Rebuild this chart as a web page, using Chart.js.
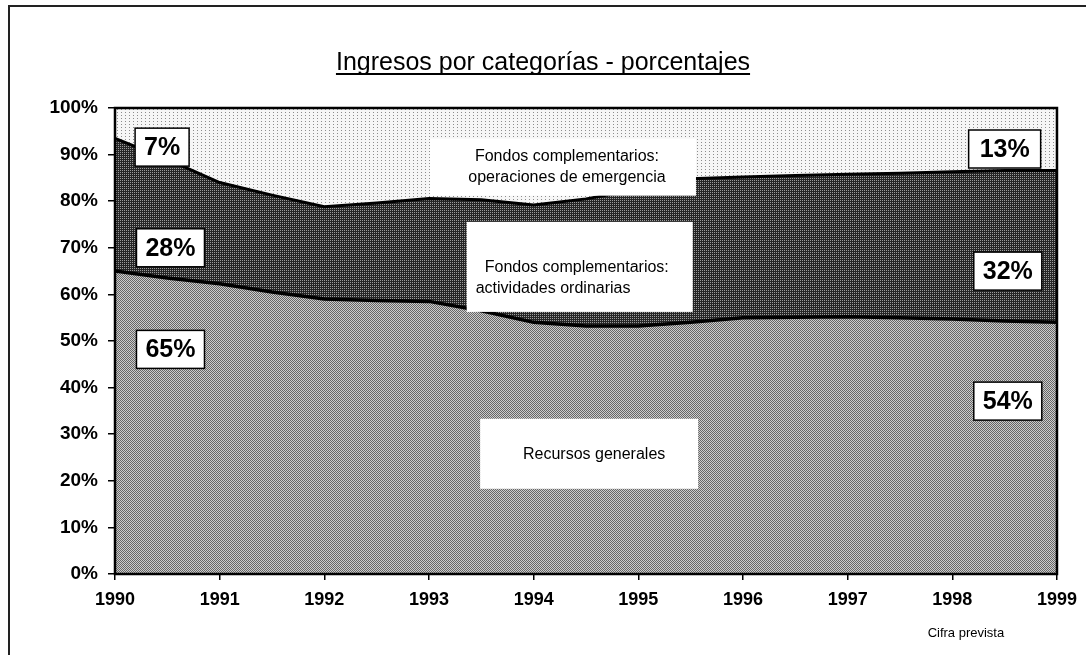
<!DOCTYPE html>
<html>
<head>
<meta charset="utf-8">
<script src="https://cdn.jsdelivr.net/npm/chart.js@4/dist/chart.umd.min.js"></script>
<style>
  html, body { margin: 0; padding: 0; background: #fff; }
  #wrap { position: relative; width: 1086px; height: 655px; overflow: hidden; }
  #frame { position: absolute; left: 8px; top: 5px; width: 1090px; height: 660px; border-top: 2px solid #222; border-left: 2px solid #222; pointer-events: none; }
  canvas { position: absolute; left: 0; top: 0; }
</style>
</head>
<body>
<div id="wrap">
  <canvas id="c" width="1086" height="655"></canvas>
  <div id="frame"></div>
</div>
<script>
// ---- data (percent of total income) ----
const years = [1990, 1990.5, 1991, 1991.5, 1992, 1992.5, 1993, 1993.5, 1994, 1994.5,
               1995, 1995.5, 1996, 1996.5, 1997, 1997.5, 1998, 1998.5, 1999];
const recursosGenerales = [65, 63.5, 62.3, 60.5, 59, 58.7, 58.5, 56.5, 54, 53.2,
                           53.2, 54, 55, 55.1, 55.2, 55, 54.7, 54.3, 54];
const actividadesOrdinarias = [28.5, 25.5, 21.7, 20.8, 19.8, 20.9, 22.1, 23.8, 25.2, 27.3,
                               29.3, 30.8, 30.2, 30.4, 30.6, 31, 31.6, 32.3, 32.6];
const operacionesEmergencia = [6.5, 11, 16, 18.7, 21.2, 20.4, 19.4, 19.7, 20.8, 19.5,
                               17.5, 15.2, 14.8, 14.5, 14.2, 14, 13.7, 13.4, 13.4];
const xTickYears = [1990, 1991, 1992, 1993, 1994, 1995, 1996, 1997, 1998, 1999];
const yTickValues = [0, 10, 20, 30, 40, 50, 60, 70, 80, 90, 100];
const titleText = 'Ingresos por categorías - porcentajes';
const footnoteText = 'Cifra prevista';
const startLabels = ['7%', '28%', '65%'];
const endLabels = ['13%', '32%', '54%'];
const seriesNames = [
  ['Recursos generales'],
  ['Fondos complementarios:', 'actividades ordinarias'],
  ['Fondos complementarios:', 'operaciones de emergencia']
];

// ---- texture patterns (greyscale print look) ----
function makePattern(w, h, bg, fg, cells) {
  const cv = document.createElement('canvas');
  cv.width = w; cv.height = h;
  const g = cv.getContext('2d');
  g.fillStyle = bg; g.fillRect(0, 0, w, h);
  g.fillStyle = fg;
  cells.forEach(([x, y]) => g.fillRect(x, y, 1, 1));
  return g.createPattern(cv, 'repeat');
}
const ctx = document.getElementById('c').getContext('2d');
const patLow = makePattern(2, 2, '#cccccc', '#666666', [[0, 0], [1, 1]]);
const patMid = makePattern(2, 2, '#262626', '#9c9c9c', [[0, 0]]);
const patTop = makePattern(4, 3, '#f6f6f6', '#8c8c8c', [[1, 1]]);

const toPts = arr => arr.map((v, i) => ({ x: years[i], y: v }));

const FONT = "'Liberation Sans', Arial, Helvetica, sans-serif";

const overlay = {
  id: 'overlay',
  afterDatasetsDraw(chart) {
    const c = chart.ctx, a = chart.chartArea;
    const xs = chart.scales.x, ys = chart.scales.y;
    c.save();
    // plot border
    c.strokeStyle = '#000'; c.lineWidth = 2.5;
    c.strokeRect(a.left, a.top, a.right - a.left, a.bottom - a.top);

    function box(cx, cy, w, h, border) {
      c.fillStyle = '#fff';
      c.fillRect(cx - w / 2, cy - h / 2, w, h);
      if (border) { c.strokeStyle = '#000'; c.lineWidth = 1.5; c.strokeRect(cx - w / 2, cy - h / 2, w, h); }
    }
    // percentage labels
    c.font = 'bold 25px ' + FONT;
    c.textAlign = 'center'; c.textBaseline = 'middle';
    const leftPos = [[1990.45, 91.6, 54], [1990.53, 70, 68], [1990.53, 48.2, 68]];
    const rightPos = [[1998.5, 91.2, 72], [1998.53, 65, 68], [1998.53, 37.1, 68]];
    const drawSet = (labels, pos) => labels.forEach((t, i) => {
      const px = xs.getPixelForValue(pos[i][0]), py = ys.getPixelForValue(pos[i][1]);
      box(px, py, pos[i][2], 38, true);
      c.fillStyle = '#000';
      c.fillText(t, px, py + 1);
    });
    drawSet(startLabels, leftPos);
    drawSet(endLabels, rightPos);

    // series name boxes
    c.font = '16px ' + FONT;
    c.textAlign = 'center';
    // emergency
    let px = xs.getPixelForValue(1994.28), py = ys.getPixelForValue(87.3);
    box(px, py, 266, 57, false);
    c.fillStyle = '#000';
    c.fillText(seriesNames[2][0], px + 4, py - 11);
    c.fillText(seriesNames[2][1], px + 4, py + 10);
    // ordinarias
    px = xs.getPixelForValue(1994.44); py = ys.getPixelForValue(65.9);
    box(px, py, 226, 90, false);
    c.fillStyle = '#000'; c.textAlign = 'left';
    c.fillText(seriesNames[1][0], px - 95, py + 1);
    c.fillText(seriesNames[1][1], px - 104, py + 22);
    // recursos
    px = xs.getPixelForValue(1994.53); py = ys.getPixelForValue(25.8);
    box(px, py, 218, 70, false);
    c.fillStyle = '#000'; c.textAlign = 'center';
    c.fillText(seriesNames[0][0], px + 5, py + 1);
    c.restore();
  },
  afterDraw(chart) {
    const c = chart.ctx;
    c.save();
    c.fillStyle = '#000';
    c.font = '25px ' + FONT;
    c.textAlign = 'center'; c.textBaseline = 'alphabetic';
    const tx = 543, ty = 70;
    c.fillText(titleText, tx, ty);
    const w = c.measureText(titleText).width;
    c.fillRect(tx - w / 2, ty + 3, w, 2);
    c.font = '13px ' + FONT;
    c.fillText(footnoteText, chart.scales.x.getPixelForValue(1998.13), 637);
    c.restore();
  }
};

new Chart(ctx, {
  type: 'line',
  data: {
    datasets: [
      { label: 'Recursos generales', data: toPts(recursosGenerales), fill: 'origin',
        backgroundColor: patLow, borderColor: '#000', borderWidth: 3.5, pointRadius: 0, tension: 0 },
      { label: 'Fondos complementarios: actividades ordinarias', data: toPts(actividadesOrdinarias), fill: '-1',
        backgroundColor: patMid, borderColor: '#000', borderWidth: 3, pointRadius: 0, tension: 0 },
      { label: 'Fondos complementarios: operaciones de emergencia', data: toPts(operacionesEmergencia), fill: '-1',
        backgroundColor: patTop, borderColor: 'rgba(0,0,0,0)', borderWidth: 0, pointRadius: 0, tension: 0 }
    ]
  },
  options: {
    responsive: false,
    animation: false,
    events: [],
    layout: { padding: { top: 108, right: 28, left: 0, bottom: 0 } },
    plugins: { legend: { display: false }, tooltip: { enabled: false }, title: { display: false } },
    scales: {
      x: {
        type: 'linear', min: 1990, max: 1999,
        afterBuildTicks: s => { s.ticks = xTickYears.map(v => ({ value: v })); },
        afterFit: s => { s.height = 81; },
        grid: { display: true, drawOnChartArea: false, drawTicks: true, tickLength: 6, color: '#000', lineWidth: 1.5 },
        border: { display: false },
        ticks: { color: '#000', font: { family: FONT, size: 18, weight: 'bold' }, padding: 9, maxRotation: 0,
                 callback: v => String(v) }
      },
      y: {
        stacked: true, min: 0, max: 100,
        afterBuildTicks: s => { s.ticks = yTickValues.map(v => ({ value: v })); },
        afterFit: s => { s.width = 115; },
        grid: { display: true, drawOnChartArea: false, drawTicks: true, tickLength: 7, color: '#000', lineWidth: 1.5 },
        border: { display: false },
        ticks: { color: '#000', font: { family: FONT, size: 19, weight: 'bold' }, padding: 10,
                 callback: v => v + '%' }
      }
    }
  },
  plugins: [overlay]
});
</script>
</body>
</html>
